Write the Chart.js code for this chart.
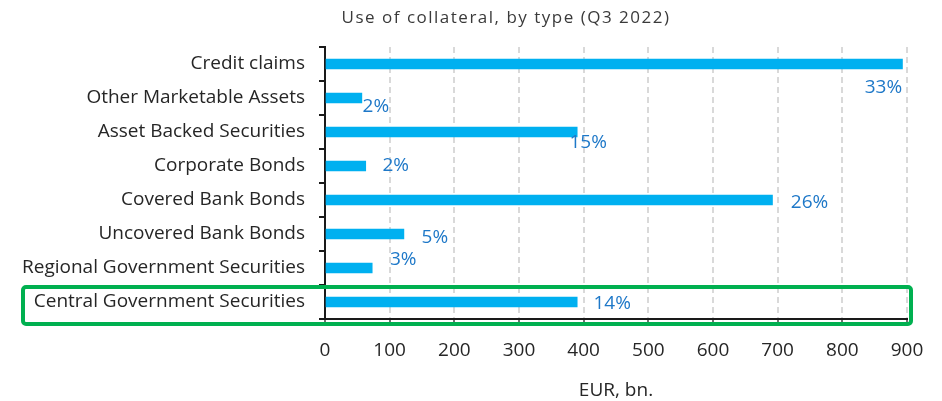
<!DOCTYPE html>
<html>
<head>
  <title>Use of collateral, by type</title>
  <script src="https://cdn.jsdelivr.net/npm/chart.js"></script>
  <style>
    html, body { margin: 0; padding: 0; background: #fff; }
    #wrap { width: 942px; height: 401px; }
  </style>
</head>
<body>
  <div id="wrap"><canvas id="graphique" width="942" height="401"></canvas></div>

  <script>
    // Catégories, montants (EUR, bn.) et parts affichées
    const categories = [
      "Credit claims",
      "Other Marketable Assets",
      "Asset Backed Securities",
      "Corporate Bonds",
      "Covered Bank Bonds",
      "Uncovered Bank Bonds",
      "Regional Government Securities",
      "Central Government Securities"
    ];
    const montants = [893, 57, 390, 63, 692, 122, 73, 390];
    const parts = ["33%", "2%", "15%", "2%", "26%", "5%", "3%", "14%"];
    const ticksX = [0, 100, 200, 300, 400, 500, 600, 700, 800, 900];

    const police = "'Open Sans', sans-serif";

    // Décalage des étiquettes par rapport au bout de la barre
    const decalages = [[-19, 24], [14, 9], [11, 11], [30, 0], [37, 3], [31, 4], [31, -8], [35, 2]];

    const etiquettes = {
      id: "etiquettes",
      afterDatasetsDraw(chart) {
        const ctx = chart.ctx;
        const meta = chart.getDatasetMeta(0);
        ctx.save();
        ctx.font = "19px " + police;
        ctx.fillStyle = "#1E78C8";
        ctx.textAlign = "center";
        ctx.textBaseline = "middle";
        meta.data.forEach((bar, i) => {
          const [dx, dy] = decalages[i];
          ctx.fillText(parts[i], bar.x + dx, bar.y + dy);
        });
        ctx.restore();
      },
      afterDraw(chart) {
        const ctx = chart.ctx;
        const y = chart.scales.y;
        const area = chart.chartArea;
        // titre
        ctx.save();
        ctx.font = "17px " + police;
        ctx.letterSpacing = "1.5px";
        ctx.fillStyle = "#3a3a3a";
        ctx.textAlign = "center";
        ctx.textBaseline = "middle";
        ctx.fillText("Use of collateral, by type (Q3 2022)", 506, 18);
        ctx.letterSpacing = "0px";
        // cadre vert autour de la dernière catégorie
        const idx = categories.length - 1;
        const pas = (area.bottom - area.top) / categories.length;
        const cy = y.getPixelForValue(idx);
        const haut = cy - pas / 2 + 2;
        const bas = cy + pas / 2 + 5;
        ctx.strokeStyle = "#00B050";
        ctx.lineWidth = 4;
        ctx.beginPath();
        ctx.roundRect(23, haut, area.right + 4 - 23, bas - haut, 3);
        ctx.stroke();
        ctx.restore();
      }
    };

    new Chart(document.getElementById("graphique").getContext("2d"), {
      type: "bar",
      data: {
        labels: categories,
        datasets: [{
          data: montants,
          backgroundColor: "#00B0F0",
          barThickness: 10
        }]
      },
      options: {
        indexAxis: "y",
        responsive: false,
        animation: false,
        layout: { padding: { top: 47, right: 35, left: 0, bottom: 0 } },
        plugins: {
          legend: { display: false },
          tooltip: { enabled: false }
        },
        scales: {
          x: {
            min: 0,
            max: 900,
            afterBuildTicks: (axis) => { axis.ticks = ticksX.map(v => ({ value: v })); },
            afterFit: (axis) => { axis.height = 82; },
            ticks: { color: "#262626", font: { size: 19, family: police }, padding: 15, maxRotation: 0 },
            grid: { color: "#D9D9D9", lineWidth: 2, tickColor: "#404040", tickLength: 5, tickWidth: 1.5 },
            border: { color: "#1a1a1a", width: 2, dash: [6, 4] },
            title: { display: true, text: "EUR, bn.", color: "#262626", font: { size: 19, family: police }, padding: { top: 7, bottom: -1 } }
          },
          y: {
            afterFit: (axis) => { axis.width = 325; },
            ticks: { color: "#262626", font: { size: 19, family: police }, padding: 14 },
            grid: { drawOnChartArea: false, offset: true, color: "#1a1a1a", tickLength: 6, lineWidth: 2 },
            border: { color: "#1a1a1a", width: 2 }
          }
        }
      },
      plugins: [etiquettes]
    });
  </script>
</body>
</html>
